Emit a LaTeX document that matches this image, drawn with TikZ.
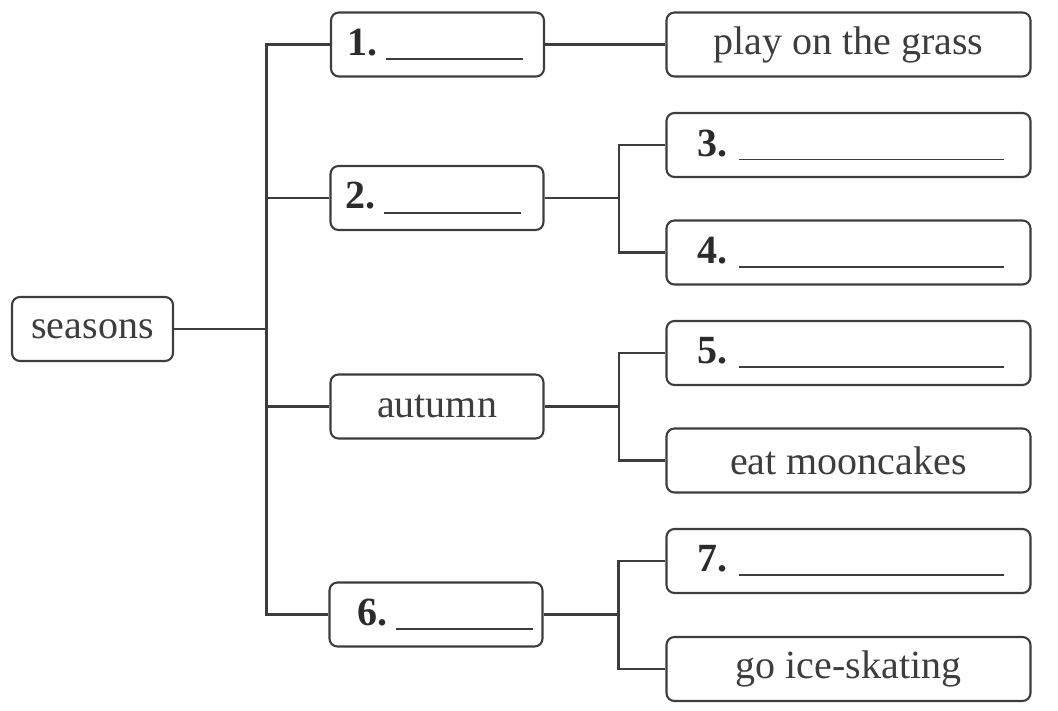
\documentclass[tikz,border=0pt]{standalone}
\usepackage{fontspec}
\setmainfont{Liberation Serif}
\definecolor{ink}{rgb}{0.24,0.24,0.24}
\definecolor{inkdark}{rgb}{0.17,0.17,0.17}
\newcommand\midblank[2]{\makebox[213pt][l]{\hspace{#1pt}{\color{inkdark}\textbf{#2}}\hspace{8.5pt}\rule[-4.8pt]{137pt}{1.8pt}}}
\newcommand\rightblank[1]{\makebox[364pt][l]{\hspace{31pt}{\color{inkdark}\textbf{#1}}\hspace{11pt}\rule[-4.3pt]{265pt}{1.8pt}}}
\tikzset{
  box/.style={draw=ink, text=ink, line width=2.1pt, rounded corners=8pt,
    minimum height=64pt, inner xsep=0pt, inner ysep=0pt,
    font=\fontsize{40}{48}\selectfont},
  rootbox/.style={box, minimum width=161pt},
  midbox/.style={box, minimum width=213pt},
  rightbox/.style={box, minimum width=364pt},
  link/.style={draw=ink, line width=2.1pt}
}
\begin{document}
\begin{tikzpicture}[x=1pt,y=-1pt]
\useasboundingbox (0,0) rectangle (1058,711);
% root
\node[rootbox] (seasons) at (92.5,329) {seasons};
% middle column
\node[midbox] (m1) at (437.5,44.5) {\midblank{16}{1.}};
\node[midbox] (m2) at (437,198) {\midblank{15}{2.}};
\node[midbox] (m3) at (437,406.5) {autumn};
\node[midbox] (m4) at (436,614.5) {\midblank{28}{6.}};
% right column
\node[rightbox] (r1) at (848.5,44.5) {play on the grass};
\node[rightbox] (r2) at (848.5,145) {\rightblank{3.}};
\node[rightbox] (r3) at (848.5,252.5) {\rightblank{4.}};
\node[rightbox] (r4) at (848.5,353) {\rightblank{5.}};
\node[rightbox] (r5) at (848.5,460.5) {eat mooncakes};
\node[rightbox] (r6) at (848.5,561) {\rightblank{7.}};
\node[rightbox] (r7) at (848.5,669) {go ice-skating};
% trunk
\coordinate (t) at (266.5,329);
\draw[link] (seasons.east) -- (t);
\draw[link] (t) |- (m1.west);
\draw[link] (t) |- (m2.west);
\draw[link] (t) |- (m3.west);
\draw[link] (t) |- (m4.west);
% branches
\draw[link] (m1.east) -- (r1.west);
\coordinate (b2) at (619,198);
\draw[link] (m2.east) -- (b2);
\draw[link] (b2) |- (r2.west);
\draw[link] (b2) |- (r3.west);
\coordinate (b3) at (619,406.5);
\draw[link] (m3.east) -- (b3);
\draw[link] (b3) |- (r4.west);
\draw[link] (b3) |- (r5.west);
\coordinate (b4) at (618.5,614.5);
\draw[link] (m4.east) -- (b4);
\draw[link] (b4) |- (r6.west);
\draw[link] (b4) |- (r7.west);
\end{tikzpicture}
\end{document}
